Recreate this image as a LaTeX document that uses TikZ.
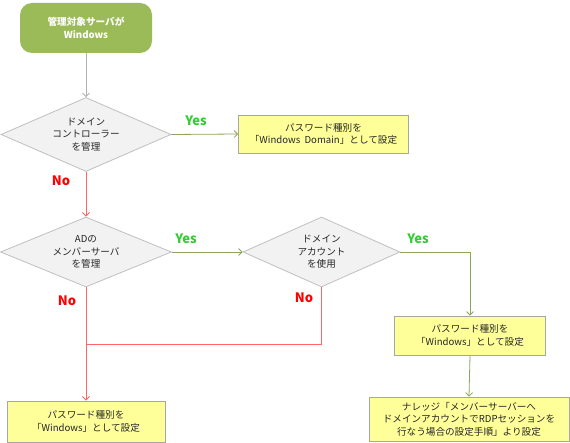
\documentclass[tikz,border=0pt]{standalone}
\usepackage{fontspec}
\setmainfont{Noto Sans CJK JP}
\usetikzlibrary{shapes.geometric,arrows.meta}
\definecolor{startgreen}{HTML}{9BBB59}
\definecolor{dfill}{HTML}{F2F2F2}
\definecolor{dline}{HTML}{BFBFBF}
\definecolor{boxfill}{HTML}{FFFF99}
\definecolor{boxline}{HTML}{A6A6A6}
\definecolor{yesline}{HTML}{8BA55A}
\definecolor{noline}{HTML}{FF6666}
\definecolor{yestext}{HTML}{33CC33}
\definecolor{notext}{HTML}{FF0000}
\begin{document}
\begin{tikzpicture}[x=1pt,y=-1pt,
  txt/.style={font=\fontsize{9.6}{12.5}\selectfont, align=center, inner sep=0pt, text=black!85},
  decision/.style={diamond, draw=dline, fill=dfill, line width=0.8pt, inner sep=0pt},
  actbox/.style={rectangle, draw=boxline, fill=boxfill, line width=0.8pt, inner sep=0pt},
  tip/.style={-{Straight Barb[length=3.5pt,width=7pt]}},
  yesarrow/.style={draw=yesline, line width=0.8pt},
  noarrow/.style={draw=noline, line width=0.9pt},
  grayarrow/.style={draw=black!30, line width=0.8pt},
  yeslbl/.style={font=\fontsize{13}{13}\selectfont\bfseries, text=yestext, inner sep=0pt},
  nolbl/.style={font=\fontsize{13}{13}\selectfont\bfseries, text=notext, inner sep=0pt}]
\useasboundingbox (0,0) rectangle (570,443);

% start
\node[rectangle, rounded corners=12pt, fill=startgreen, minimum width=132pt, minimum height=50pt, inner sep=0pt] (start) at (86,28) {};
\node[font=\fontsize{9.6}{13}\selectfont\bfseries, text=white, align=center, inner sep=0pt] (starttxt) at (86,28) {管理対象サーバが\\Windows};

% decision 1
\node[decision, minimum width=170pt, minimum height=74pt] (d1) at (86,134.5) {};
\node[txt] (d1t) at (86,134.5) {ドメイン\\コントローラー\\を管理};

% box 1
\node[actbox, minimum width=170pt, minimum height=38pt] (b1) at (323.5,134) {};
\node[txt] (b1t) at (323.5,134) {パスワード種別を\\「Windows\ \ Domain」として設定};

% decision 2
\node[decision, minimum width=171pt, minimum height=70pt] (d2) at (86,252) {};
\node[txt] (d2t) at (86,252) {ADの\\メンバーサーバ\\を管理};

% decision 3
\node[decision, minimum width=157pt, minimum height=70pt] (d3) at (321.5,252) {};
\node[txt] (d3t) at (321.5,252) {ドメイン\\アカウント\\を使用};

% box 2
\node[actbox, minimum width=151pt, minimum height=39pt] (b2) at (470,335.5) {};
\node[txt] (b2t) at (470,335.5) {パスワード種別を\\「Windows」として設定};

% box 3
\node[actbox, minimum width=200pt, minimum height=44pt] (b3) at (469,419) {};
\node[txt] (b3t) at (469,419) {ナレッジ「メンバーサーバーへ\\ドメインアカウントでRDPセッションを\\行なう場合の設定手順」より設定};

% box 4
\node[actbox, minimum width=158pt, minimum height=41pt] (b4) at (86,421.5) {};
\node[txt] (b4t) at (86,421.5) {パスワード種別を\\「Windows」として設定};

\coordinate (join) at (86,344.5);
\coordinate (bend) at (470,252);

% connectors
\draw[grayarrow, tip] (start) -- (d1);
\draw[yesarrow, tip] (d1.east) -- (b1.west);
\draw[noarrow, tip] (d1.south) -- (d2.north);
\draw[yesarrow, tip] (d2.east) -- (d3.west);
\draw[yesarrow, tip] (d3.east) -- (bend) -- (b2.north);
\draw[yesarrow, tip] (b2.south) -- (b3.north);
\draw[noarrow] (d3.south) |- (join);
\draw[noarrow, tip] (d2.south) -- (b4.north);

% labels
\node[yeslbl] (y1) at (196,121) {Yes};
\node[nolbl] (n1) at (61,181) {No};
\node[yeslbl] (y2) at (186,239) {Yes};
\node[yeslbl] (y3) at (418,239) {Yes};
\node[nolbl] (n2) at (67,301) {No};
\node[nolbl] (n3) at (304,298) {No};
\end{tikzpicture}
\end{document}
